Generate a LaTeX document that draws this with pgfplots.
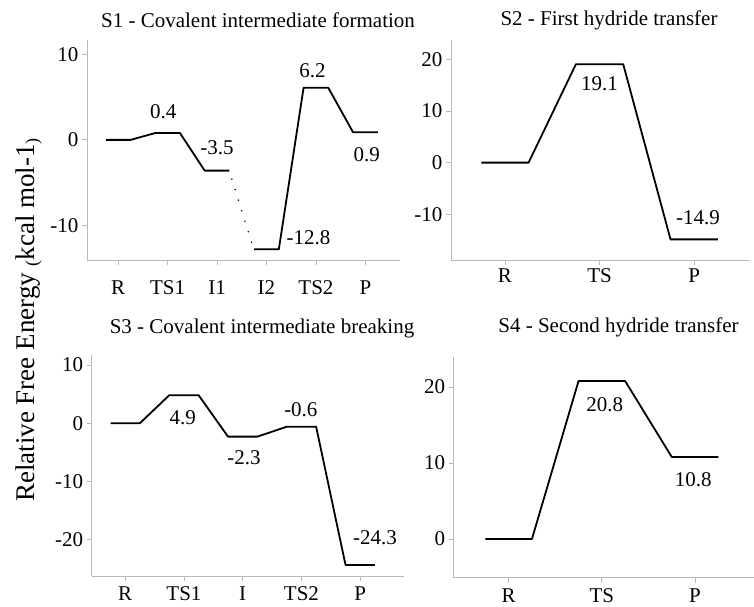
\documentclass[border=0pt]{standalone}
\usepackage{fontspec}
\setmainfont{Liberation Serif}
\usepackage{pgfplots}
\pgfplotsset{compat=1.18}
\pgfplotsset{
  prof/.style={
    scale only axis,
    anchor=south west,
    axis x line*=bottom, axis y line*=left,
    axis line style={-, draw=gray!55, line width=0.8bp},
    tick style={draw=gray!55, line width=0.8bp},
    tick align=outside, major tick length=5bp,
    xtick pos=bottom, ytick pos=left,
    tick label style={font=\fontsize{21bp}{24bp}\selectfont, black},
    xticklabel style={text height=14bp, text depth=0bp},
    /pgf/number format/assume math mode=true,
    clip=false,
  },
  lev/.style={black, line width=1.8bp, line join=round, mark=none},
}
\newcommand{\lbl}{\fontsize{21bp}{24bp}\selectfont}
\begin{document}
\begin{tikzpicture}
\path[use as bounding box] (0,0) rectangle (754bp,607bp);
% S1
\begin{axis}[prof, at={(87bp,347bp)}, width=313bp, height=220bp,
  xmin=-0.63, xmax=5.7, ymin=-14.07, ymax=11.7,
  xtick={0,1,2,3,4,5}, xticklabels={R,TS1,I1,I2,TS2,P},
  xticklabel style={yshift=-12bp},
  ytick={-10,0,10}]
\addplot[lev] coordinates {(-0.25,0) (0.25,0) (0.75,0.8) (1.25,0.8) (1.75,-3.6) (2.25,-3.6)};
\addplot[black, line width=1.7bp, line cap=round, dash pattern=on 0bp off 11bp] coordinates {(2.3,-4.6) (2.72,-12.4)};
\addplot[lev] coordinates {(2.75,-12.8) (3.25,-12.8) (3.75,6.1) (4.25,6.1) (4.75,0.9) (5.25,0.9)};
\node[font=\lbl, inner sep=0] at (axis cs:0.91,3.28) {0.4};
\node[font=\lbl, inner sep=0] at (axis cs:2.0,-0.94) {-3.5};
\node[font=\lbl, inner sep=0] at (axis cs:3.93,8.1) {6.2};
\node[font=\lbl, inner sep=0] at (axis cs:3.85,-11.4) {-12.8};
\node[font=\lbl, inner sep=0] at (axis cs:5.03,-1.76) {0.9};
\end{axis}
% S2
\begin{axis}[prof, at={(451bp,347bp)}, width=299bp, height=220bp,
  xmin=-0.57, xmax=2.59, ymin=-18.9, ymax=23.8,
  xtick={0,1,2}, xticklabels={R,TS,P},
  ytick={-10,0,10,20}]
\addplot[lev] coordinates {(-0.25,0) (0.25,0) (0.75,19.1) (1.25,19.1) (1.75,-14.9) (2.25,-14.9)};
\node[font=\lbl, inner sep=0] at (axis cs:1.0,15.4) {19.1};
\node[font=\lbl, inner sep=0] at (axis cs:2.04,-10.7) {-14.9};
\end{axis}
% S3
\begin{axis}[prof, at={(91.7bp,31bp)}, width=312bp, height=221bp,
  xmin=-0.57, xmax=4.74, ymin=-26.2, ymax=11.7,
  xtick={0,1,2,3,4}, xticklabels={R,TS1,I,TS2,P},
  xticklabel style={yshift=-2bp},
  ytick={-20,-10,0,10}]
\addplot[lev] coordinates {(-0.25,0) (0.25,0) (0.75,4.8) (1.25,4.8) (1.75,-2.3) (2.25,-2.3) (2.75,-0.6) (3.25,-0.6) (3.75,-24.3) (4.25,-24.3)};
\node[font=\lbl, inner sep=0] at (axis cs:0.98,1.0) {4.9};
\node[font=\lbl, inner sep=0] at (axis cs:2.02,-5.9) {-2.3};
\node[font=\lbl, inner sep=0] at (axis cs:2.99,2.3) {-0.6};
\node[font=\lbl, inner sep=0] at (axis cs:4.25,-19.7) {-24.3};
\end{axis}
% S4
\begin{axis}[prof, at={(453.7bp,29.3bp)}, width=300bp, height=221bp,
  xmin=-0.59, xmax=2.63, ymin=-5.1, ymax=24,
  xtick={0,1,2}, xticklabels={R,TS,P},
  xticklabel style={yshift=-2bp},
  ytick={0,10,20}]
\addplot[lev] coordinates {(-0.25,0) (0.25,0) (0.75,20.8) (1.25,20.8) (1.75,10.8) (2.25,10.8)};
\node[font=\lbl, inner sep=0] at (axis cs:1.03,17.7) {20.8};
\node[font=\lbl, inner sep=0] at (axis cs:1.98,7.8) {10.8};
\end{axis}
% titles
\node[font=\lbl] at (258bp,587bp) {S1 - Covalent intermediate formation};
\node[font=\lbl] at (609bp,587bp) {S2 - First hydride transfer};
\node[font=\lbl] at (262bp,279bp) {S3 - Covalent intermediate breaking};
\node[font=\lbl] at (618.5bp,280bp) {S4 - Second hydride transfer};
\node[font=\fontsize{27bp}{30bp}\selectfont, rotate=90] at (29bp,287bp) {Relative Free Energy {\fontsize{18bp}{20bp}\selectfont\raisebox{-3bp}{(}}kcal mol-1{\fontsize{18bp}{20bp}\selectfont\raisebox{-3bp}{)}}};
\end{tikzpicture}
\end{document}
